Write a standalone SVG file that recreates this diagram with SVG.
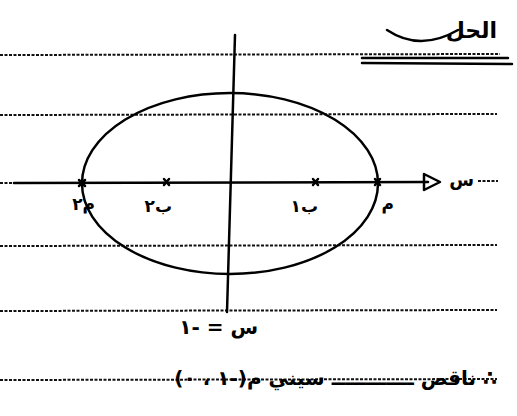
<svg xmlns="http://www.w3.org/2000/svg" width="517" height="416" viewBox="0 0 517 416">
<style>
.dot{stroke:#111;stroke-width:2;stroke-dasharray:3 1.5;fill:none}
.ln{stroke:#000;stroke-width:2.5;fill:none;stroke-linecap:round}
.t{font-family:"DejaVu Sans",sans-serif;font-weight:bold;fill:#000}
</style>
<rect width="517" height="416" fill="#fff"/>
<g id="ruled-lines">
<line class="dot" x1="0" y1="55" x2="500" y2="54"/>
<line class="dot" x1="0" y1="115" x2="497" y2="114"/>
<line class="dot" x1="0" y1="246" x2="497" y2="245"/>
<line class="dot" x1="0" y1="311" x2="497" y2="310"/>
<line class="dot" x1="0" y1="380" x2="497" y2="379"/>
<line class="dot" x1="0" y1="183" x2="14" y2="183"/>
<line class="dot" x1="478" y1="181" x2="498" y2="181"/>
</g>
<g id="title">
<text class="t" x="497" y="38" font-size="22" text-anchor="start" direction="rtl">الحل</text>
<path class="ln" d="M387 30 Q420 52 458 30"/>
<line class="ln" x1="362" y1="58" x2="508" y2="58" stroke-width="2"/>
<line class="ln" x1="362" y1="63" x2="512" y2="64" stroke-width="3"/>
</g>
<g id="axes">
<line class="ln" x1="14" y1="183" x2="428" y2="182"/>
<path d="M424 174 L440 182 L424 190 Z" fill="none" stroke="#000" stroke-width="2.5" stroke-linejoin="round"/>
<line class="ln" x1="235" y1="35" x2="227" y2="312"/>
<text class="t" x="474" y="186" font-size="18" text-anchor="end">س</text>
</g>
<g id="ellipse">
<ellipse cx="230" cy="183.5" rx="148" ry="90.5" fill="none" stroke="#000" stroke-width="2.5"/>
</g>
<g id="points">
<path class="ln" d="M79 180 L85 186 M85 180 L79 186" stroke-width="2"/>
<path class="ln" d="M164 179 L169 185 M169 179 L164 185" stroke-width="2"/>
<path class="ln" d="M313 179 L318 185 M318 179 L313 185" stroke-width="2"/>
<path class="ln" d="M375 179 L380 185 M380 179 L375 185" stroke-width="2"/>
<text class="t" x="95" y="210" font-size="17" text-anchor="end">م٢</text>
<text class="t" x="172" y="212" font-size="17" text-anchor="end">ب٢</text>
<text class="t" x="318" y="212" font-size="17" text-anchor="end">ب١</text>
<text class="t" x="394" y="210" font-size="17" text-anchor="end">م</text>
</g>
<g id="notes">
<text class="t" x="258" y="334" font-size="20" text-anchor="start" direction="rtl">س = -١</text>
<text class="t" x="497" y="385" font-size="20" text-anchor="start" direction="rtl">∴ ناقص ــــــــــــ سيني م(-١ ، ٠)</text>
</g>
</svg>
